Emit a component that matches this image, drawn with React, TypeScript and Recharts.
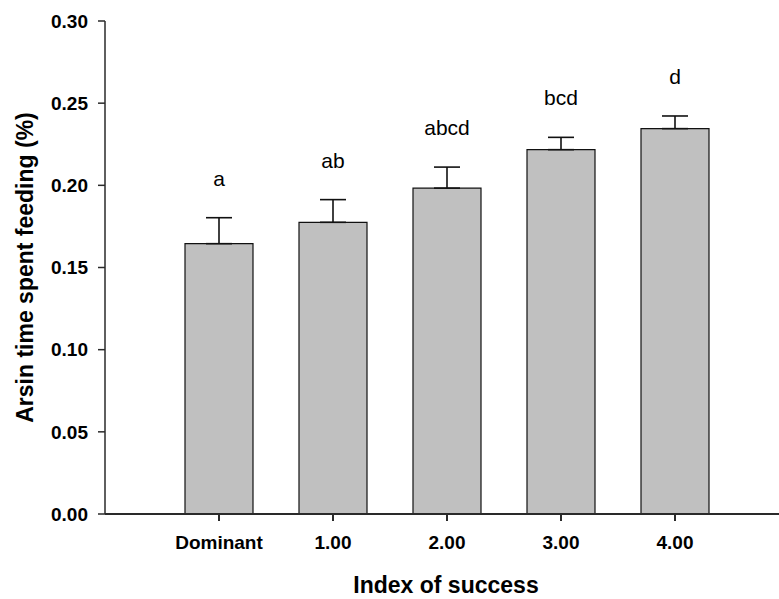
import {
  Bar,
  ComposedChart,
  ErrorBar,
  LabelList,
  Line,
  XAxis,
  YAxis,
} from "recharts";

const categories = ["Dominant", "1.00", "2.00", "3.00", "4.00"];
const means = [0.1645, 0.1775, 0.1983, 0.2217, 0.2345];
const stdErrors = [0.0158, 0.0138, 0.0128, 0.0075, 0.0077];
const letters = ["a", "ab", "abcd", "bcd", "d"];
const yTicks = [0, 0.05, 0.1, 0.15, 0.2, 0.25, 0.3];

const FONT = 'Arial, "Liberation Sans", sans-serif';
const AXIS_COLOR = "#2a2a2a";

const data = categories.map((name, i) => ({
  name,
  mean: means[i],
  err: [0, stdErrors[i]],
  top: means[i] + stdErrors[i],
  letter: letters[i],
}));

export default function App() {
  return (
    <div style={{ position: "absolute", left: 0, top: 0, fontFamily: FONT }}>
      <ComposedChart
        width={779}
        height={599}
        data={data}
        margin={{ top: 21, right: 0, bottom: 0, left: 0 }}
      >
        <XAxis
          dataKey="name"
          height={85}
          padding={{ left: 57, right: 47 }}
          tickSize={7}
          tickMargin={15}
          stroke={AXIS_COLOR}
          strokeWidth={2}
          tick={{ fill: "#000", fontSize: 19, fontWeight: "bold" }}
          label={{
            value: "Index of success",
            position: "insideBottom",
            offset: 6,
            dx: 4,
            fill: "#000",
            fontSize: 23,
            fontWeight: "bold",
          }}
        />
        <YAxis
          width={105}
          domain={[0, 0.3]}
          ticks={yTicks}
          tickFormatter={(v: number) => v.toFixed(2)}
          tickSize={7}
          tickMargin={10}
          stroke={AXIS_COLOR}
          strokeWidth={1.5}
          tick={{ fill: "#000", fontSize: 19, fontWeight: "bold" }}
          label={{
            value: "Arsin time spent feeding (%)",
            angle: -90,
            position: "insideLeft",
            offset: 25,
            fill: "#000",
            fontSize: 23,
            fontWeight: "bold",
            style: { textAnchor: "middle" },
          }}
        />
        <Bar
          dataKey="mean"
          barSize={68}
          fill="#c0c0c0"
          stroke="#111"
          strokeWidth={1.2}
          isAnimationActive={false}
        >
          <ErrorBar
            dataKey="err"
            direction="y"
            width={13}
            stroke="#111"
            strokeWidth={1.6}
            isAnimationActive={false}
          />
        </Bar>
        <Line
          dataKey="top"
          stroke="none"
          dot={false}
          activeDot={false}
          isAnimationActive={false}
        >
          <LabelList
            dataKey="letter"
            position="top"
            offset={32}
            fill="#000"
            fontSize={21}
          />
        </Line>
      </ComposedChart>
    </div>
  );
}
